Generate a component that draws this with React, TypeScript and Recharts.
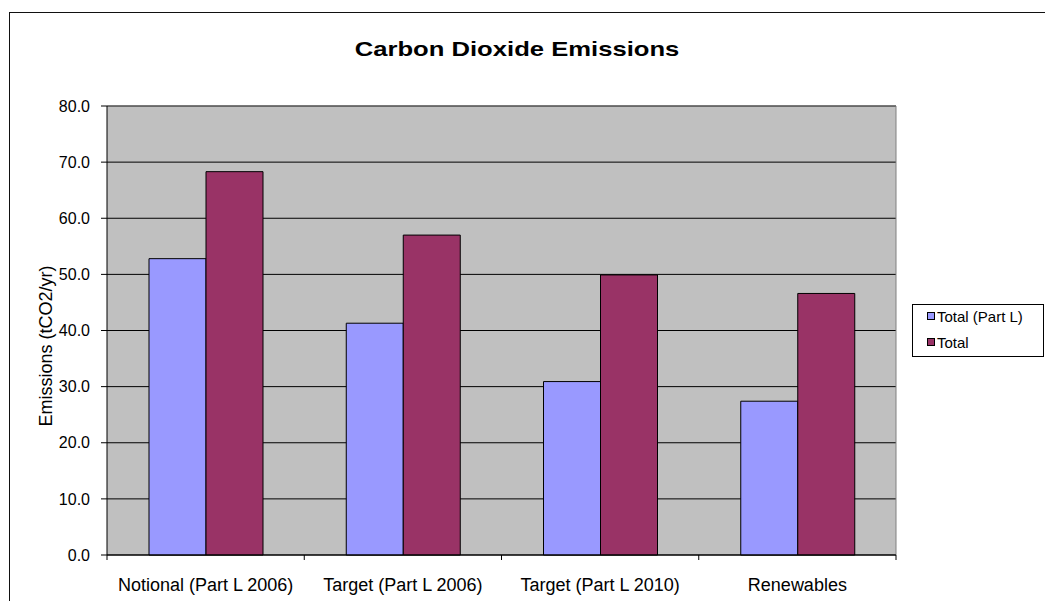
import React from 'react';
import {
  BarChart,
  Bar,
  XAxis,
  YAxis,
  CartesianGrid,
  Legend,
  ReferenceLine,
  Label,
} from 'recharts';

const categories = [
  'Notional (Part L 2006)',
  'Target (Part L 2006)',
  'Target (Part L 2010)',
  'Renewables',
];
const totalPartL = [52.8, 41.3, 30.9, 27.4];
const totalAll = [68.3, 57.0, 49.9, 46.6];
const seriesKeys = ['partL', 'total'];
const seriesNames = ['Total (Part L)', 'Total'];
const seriesColors = ['#9999FF', '#993366'];
const yTicks = [0, 10, 20, 30, 40, 50, 60, 70, 80];
const chartTitle = 'Carbon Dioxide Emissions';
const yAxisTitle = 'Emissions (tCO2/yr)';

const data = categories.map((name, i) => ({
  name,
  partL: totalPartL[i],
  total: totalAll[i],
}));

const W = 1045;
const H = 601;
const MARGIN = { top: 106, right: 149, bottom: 0, left: 47 };
const Y_W = 60;
const X_H = 46;
const BAND = (W - MARGIN.left - MARGIN.right - Y_W) / categories.length;
const FONT = '"Liberation Sans", Arial, Helvetica, sans-serif';

const XTick = (props: any) => {
  const { x, y, payload, index } = props;
  const half = BAND / 2;
  return (
    <g>
      {index === 0 && (
        <line x1={x - half} x2={x - half} y1={y} y2={y + 5} stroke="#000" />
      )}
      <line x1={x + half} x2={x + half} y1={y} y2={y + 5} stroke="#000" />
      <text
        x={x}
        y={y + 36}
        textAnchor="middle"
        fontSize={18}
        fontFamily={FONT}
        fill="#000"
      >
        {payload.value}
      </text>
    </g>
  );
};

const YTitle = (props: any) => {
  const vb = props.viewBox || { x: MARGIN.left, y: MARGIN.top, width: Y_W, height: 449 };
  const bx = vb.x + 5;
  const cy = vb.y + vb.height / 2 + 15.5;
  return (
    <text
      transform={`translate(${bx}, ${cy}) rotate(-90)`}
      x={0}
      y={0}
      textAnchor="middle"
      fontSize={18}
      fontFamily={FONT}
      fill="#000"
    >
      {yAxisTitle}
    </text>
  );
};

const LegendBox = () => {
  return (
    <svg width={132} height={53} style={{ display: 'block', overflow: 'visible' }}>
      <rect x={0.5} y={0.5} width={131} height={52} fill="#fff" stroke="#000" />
      {seriesNames.map((name, i) => (
        <g key={name}>
          <rect
            x={15.5}
            y={8.5 + i * 26}
            width={7}
            height={7}
            fill={seriesColors[i]}
            stroke="#000"
          />
          <text
            x={25}
            y={17.5 + i * 26}
            fontSize={15}
            fontFamily={FONT}
            fill="#000"
          >
            {name}
          </text>
        </g>
      ))}
    </svg>
  );
};

export default function App() {
  return (
    <div
      style={{
        position: 'absolute',
        left: 0,
        top: 0,
        width: W,
        height: H,
        overflow: 'hidden',
        background: '#fff',
        fontFamily: FONT,
      }}
    >
      <div
        style={{
          position: 'absolute',
          left: 9,
          top: 12,
          width: 1200,
          height: 800,
          borderTop: '1px solid #111',
          borderLeft: '1px solid #111',
        }}
      />
      <div
        style={{
          position: 'absolute',
          left: 0,
          top: 38,
          width: 1034,
          textAlign: 'center',
          fontSize: 21,
          lineHeight: '21px',
          fontWeight: 'bold',
          color: '#000',
          transform: 'scaleX(1.22)',
          transformOrigin: '517px 50%',
        }}
      >
        {chartTitle}
      </div>
      <div style={{ position: 'absolute', left: 0, top: 0 }}>
        <BarChart
          width={W}
          height={H}
          data={data}
          margin={MARGIN}
          barCategoryGap={42}
          barGap={0}
        >
          <CartesianGrid
            vertical={false}
            stroke="#000"
            fill="#C0C0C0"
            fillOpacity={1}
          />
          <CartesianGrid
            horizontal={false}
            stroke="#808080"
            verticalCoordinatesGenerator={({ offset }: any) => [offset.left + offset.width]}
          />
          <ReferenceLine y={80} stroke="#707070" />
          <XAxis
            dataKey="name"
            height={X_H}
            interval={0}
            tickLine={false}
            tickSize={0}
            tickMargin={0}
            axisLine={{ stroke: '#000' }}
            tick={<XTick />}
          />
          <YAxis
            width={Y_W}
            domain={[0, 80]}
            ticks={yTicks}
            interval={0}
            tickFormatter={(v: number) => v.toFixed(1)}
            tickSize={6}
            tickMargin={11}
            axisLine={{ stroke: '#000' }}
            tickLine={{ stroke: '#000' }}
            tick={{ fontSize: 16, fill: '#000', fontFamily: FONT }}
          >
            <Label content={<YTitle />} />
          </YAxis>
          <Legend
            layout="vertical"
            align="center"
            verticalAlign="middle"
            content={<LegendBox />}
            wrapperStyle={{ left: 912, top: 304, width: 132, height: 53, overflow: 'visible' }}
          />
          <Bar
            dataKey={seriesKeys[0]}
            name={seriesNames[0]}
            fill={seriesColors[0]}
            stroke="#000"
            strokeWidth={1}
            isAnimationActive={false}
          />
          <Bar
            dataKey={seriesKeys[1]}
            name={seriesNames[1]}
            fill={seriesColors[1]}
            stroke="#000"
            strokeWidth={1}
            isAnimationActive={false}
          />
        </BarChart>
      </div>
    </div>
  );
}
